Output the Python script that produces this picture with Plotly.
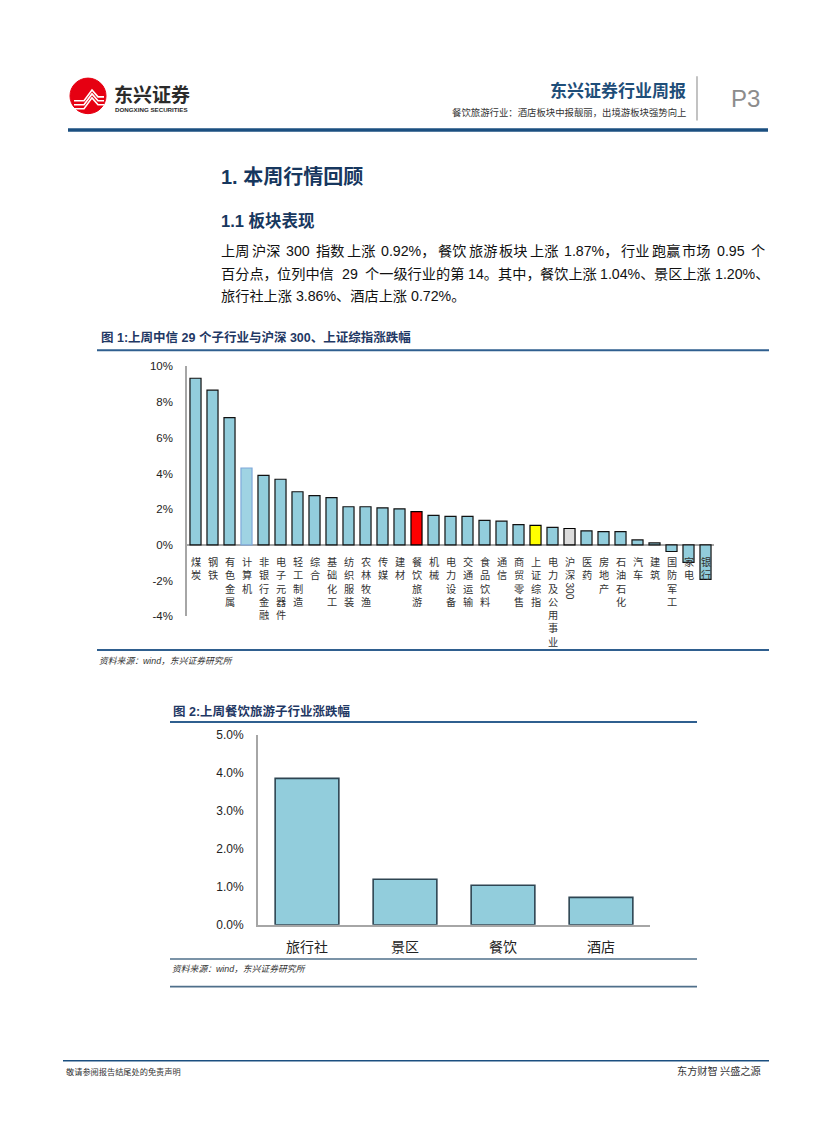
import plotly.graph_objects as go

W, H = 827, 1122

# ---------------- data ----------------
ind_names = ["煤炭", "钢铁", "有色金属", "计算机", "非银行金融", "电子元器件", "轻工制造", "综合",
             "基础化工", "纺织服装", "农林牧渔", "传媒", "建材", "餐饮旅游", "机械", "电力设备",
             "交通运输", "食品饮料", "通信", "商贸零售", "上证综指", "电力及公用事业", "沪深300",
             "医药", "房地产", "石油石化", "汽车", "建筑", "国防军工", "家电", "银行"]
ind_values = [9.34, 8.67, 7.13, 4.31, 3.90, 3.68, 2.98, 2.76,
              2.65, 2.14, 2.14, 2.08, 2.02, 1.87, 1.65, 1.60,
              1.60, 1.38, 1.33, 1.14, 1.09, 0.98, 0.92,
              0.79, 0.74, 0.74, 0.28, 0.11, -0.37, -0.98, -1.93]
y1_ticks = [-4, -2, 0, 2, 4, 6, 8, 10]

sub_names = ["旅行社", "景区", "餐饮", "酒店"]
sub_values = [3.86, 1.20, 1.04, 0.72]
y2_ticks = [0, 1, 2, 3, 4, 5]

# ---------------- helpers ----------------
FONT = "Liberation Sans, Noto Sans CJK SC, sans-serif"
CJK = "Noto Sans CJK SC, sans-serif"
NAVY = "#1F4E79"


def px(x):
    return x / W


def py(y):
    return 1 - y / H


annotations = []
shapes = []


def txt(x, y, text, size, color="#222222", bold=False, xanchor="left", yanchor="middle", family=FONT):
    if bold:
        text = "<b>" + text + "</b>"
    annotations.append(dict(x=px(x), y=py(y), xref="paper", yref="paper", text=text,
                            showarrow=False, xanchor=xanchor, yanchor=yanchor,
                            font=dict(size=size, color=color, family=family)))


def hline(x0, x1, y, color, width):
    shapes.append(dict(type="line", xref="paper", yref="paper", x0=px(x0), x1=px(x1),
                       y0=py(y), y1=py(y), line=dict(color=color, width=width)))


ASCII_W = {".": 0.278, "%": 0.889, ",": 0.278}


def em_width(s):
    w = 0.0
    for ch in s:
        if ord(ch) < 128:
            if ch.isdigit():
                w += 0.556
            else:
                w += ASCII_W.get(ch, 0.5)
        else:
            w += 1.0
    return w


def justified(line, x0, x1, y, size, chunk=99, color="#111111"):
    # split into groups at spaces, after full-width punctuation and every `chunk` CJK chars
    groups = []  # (text, gap_before_em)
    cur = ""
    gap = 0.0
    pending_gap = 0.0
    for ch in line:
        if ch == " ":
            if cur:
                groups.append((cur, gap))
                cur = ""
                gap = 0.0
            pending_gap += 0.278
            continue
        if not cur:
            gap = pending_gap
            pending_gap = 0.0
        cur += ch
        if ch in "，、。" or (ord(ch) > 127 and len(cur) >= chunk and all(ord(c) > 127 for c in cur)):
            groups.append((cur, gap))
            cur = ""
            gap = 0.0
    if cur:
        groups.append((cur, gap))
    natural = sum(em_width(g) + gp for g, gp in groups) * size
    extra = (x1 - x0 - natural) / max(len(groups) - 1, 1)
    x = x0
    for i, (g, gp) in enumerate(groups):
        if i > 0:
            x += gp * size + extra
        txt(x, y, g, size, color)
        x += em_width(g) * size


# ---------------- figure ----------------
fig = go.Figure()

fill_colors = []
line_colors = []
for n in ind_names:
    if n == "餐饮旅游":
        fill_colors.append("#FF0000")
        line_colors.append("#000000")
    elif n == "上证综指":
        fill_colors.append("#FFFF00")
        line_colors.append("#000000")
    elif n == "沪深300":
        fill_colors.append("#DCDCDC")
        line_colors.append("#000000")
    elif n == "计算机":
        fill_colors.append("#9FD3E3")
        line_colors.append("#7FA8DA")
    else:
        fill_colors.append("#92CDDC")
        line_colors.append("#111111")

fig.add_trace(go.Bar(x=ind_names, y=ind_values, xaxis="x", yaxis="y",
                     marker=dict(color=fill_colors, line=dict(color=line_colors, width=1.2)),
                     showlegend=False, hoverinfo="x+y"))

fig.add_trace(go.Bar(x=sub_names, y=sub_values, xaxis="x2", yaxis="y2",
                     marker=dict(color="#92CDDC", line=dict(color="#2E4552", width=1.6)),
                     showlegend=False, hoverinfo="x+y"))

# vertical stacked category labels for chart 1
LBL = 10.2
for n in ind_names:
    chars = [c for c in n if not c.isdigit()]
    digits = "".join(c for c in n if c.isdigit())
    annotations.append(dict(x=n, y=0, xref="x", yref="y", text="<br>".join(chars), showarrow=False,
                            xanchor="center", yanchor="top", yshift=-7,
                            font=dict(size=LBL, color="#333333", family=CJK)))
    if digits:
        stack_h = len(chars) * LBL * 1.3
        annotations.append(dict(x=n, y=0, xref="x", yref="y", text=digits, showarrow=False,
                                textangle=90, xanchor="center", yanchor="top",
                                yshift=-(9 + stack_h),
                                font=dict(size=LBL, color="#333333", family=FONT)))

# ---------------- header ----------------
shapes.append(dict(type="circle", xref="paper", yref="paper",
                   x0=px(70), x1=px(106), y0=py(108), y1=py(72),
                   fillcolor="#E60012", line=dict(color="#E60012", width=1)))
for dy in (0, 4, 8):
    shapes.append(dict(type="path", xref="paper", yref="paper",
                       path=f"M {px(74)} {py(95 + dy)} L {px(84)} {py(95 + dy)} L {px(92)} {py(84 + dy)} "
                            f"L {px(98)} {py(91 + dy)} L {px(104)} {py(91 + dy)}",
                       line=dict(color="white", width=1.6)))
txt(112, 88, "东兴证券", 19, "#2B2B2B", bold=True, family=CJK)
txt(113, 104, "DONGXING SECURITIES", 6.2, "#2B2B2B", bold=True)

txt(688, 84, "东兴证券行业周报", 17, NAVY, bold=True, xanchor="right", family=CJK)
txt(688, 106, "餐饮旅游行业：酒店板块中报靓丽，出境游板块强势向上", 9.4, "#333333", xanchor="right", family=CJK)
shapes.append(dict(type="line", xref="paper", yref="paper", x0=px(697), x1=px(697),
                   y0=py(70), y1=py(115), line=dict(color="#9A9A9A", width=1.2)))
txt(745, 93, "P3", 24, "#8C8C8C", xanchor="center")
hline(68, 768, 124.5, "#1B4F80", 3.5)

# ---------------- section text ----------------
txt(219, 172, "1. 本周行情回顾", 20, "#17375E", bold=True)
txt(219, 217, "1.1 板块表现", 16.5, "#17375E", bold=True)
PSIZE = 14.2
justified("上周沪深 300 指数上涨 0.92%，餐饮旅游板块上涨 1.87%，行业跑赢市场 0.95 个",
          219, 763, 247, PSIZE, chunk=2)
justified("百分点，位列中信  29  个一级行业的第 14。其中，餐饮上涨 1.04%、景区上涨 1.20%、",
          219, 767, 270, PSIZE)
txt(219, 293, "旅行社上涨 3.86%、酒店上涨 0.72%。", PSIZE, "#111111")

# ---------------- chart 1 frame ----------------
txt(99, 335, "图 1:上周中信 29 个子行业与沪深 300、上证综指涨跌幅", 12.5, "#1F3864", bold=True)
hline(97, 769, 347.5, "#2F5F8F", 2)
hline(97, 769, 651, "#2F5F8F", 2)
txt(97, 662, "<i>资料来源：wind，东兴证券研究所</i>", 8.8, "#333333")

# ---------------- chart 2 frame ----------------
txt(171, 713, "图 2:上周餐饮旅游子行业涨跌幅", 12.5, "#1F3864", bold=True)
hline(170, 697, 724, "#2F5F8F", 2)
hline(170, 697, 964, "#4F6F8A", 1.6)
txt(170, 974, "<i>资料来源：wind，东兴证券研究所</i>", 8.8, "#333333")
hline(170, 697, 992, "#4F6F8A", 1.6)

# ---------------- footer ----------------
hline(63, 769, 1067, "#1B4F80", 1.5)
txt(64, 1077, "敬请参阅报告结尾处的免责声明", 8.2, "#333333", family=CJK)
txt(763, 1077, "东方财智 兴盛之源", 10.2, "#333333", xanchor="right", family=CJK)

fig.update_layout(
    width=W, height=H,
    margin=dict(l=0, r=0, t=0, b=0),
    paper_bgcolor="white", plot_bgcolor="white",
    bargap=0.35,
    annotations=annotations,
    shapes=shapes,
    xaxis=dict(domain=[px(187), px(714)], anchor="y", showticklabels=False, showline=False,
               showgrid=False, zeroline=False, ticks="", fixedrange=True),
    yaxis=dict(domain=[py(617), py(364)], anchor="x", range=[-4, 10], tickvals=y1_ticks,
               ticktext=[f"{v}%" for v in y1_ticks], showgrid=False, zeroline=True,
               zerolinecolor="#A6A6A6", zerolinewidth=1.5, showline=True, linecolor="#A6A6A6",
               linewidth=1.5, ticks="outside", ticklen=10, tickcolor="rgba(0,0,0,0)",
               tickfont=dict(size=11.5, color="#222222", family=FONT), fixedrange=True),
    xaxis2=dict(domain=[px(258), px(650)], anchor="y2", showline=True, linecolor="#A6A6A6",
                linewidth=1.8, showgrid=False, zeroline=False, ticks="outside", ticklen=9,
                tickcolor="rgba(0,0,0,0)", tickfont=dict(size=14, color="#222222", family=CJK),
                fixedrange=True),
    yaxis2=dict(domain=[py(929.3), py(737.3)], anchor="x2", range=[0, 5], tickvals=y2_ticks,
                ticktext=[f"{v:.1f}%" for v in y2_ticks], showgrid=False, zeroline=False,
                showline=True, linecolor="#A6A6A6", linewidth=1.8, ticks="outside", ticklen=10,
                tickcolor="rgba(0,0,0,0)", tickfont=dict(size=12, color="#222222", family=FONT),
                fixedrange=True),
)

fig.write_html("out.html", config={"displayModeBar": False},
               post_script="document.body.style.margin='0';document.body.style.overflow='hidden';")
